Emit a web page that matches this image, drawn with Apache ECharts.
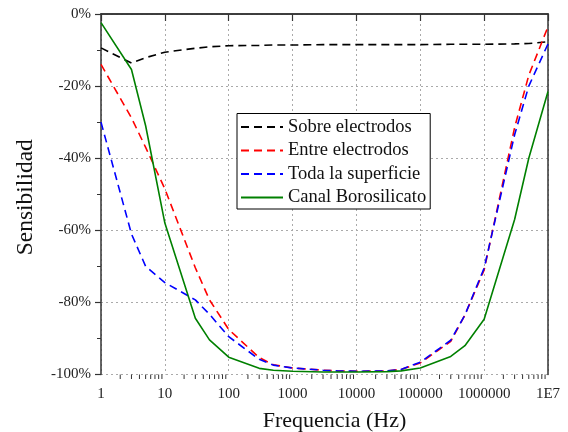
<!DOCTYPE html>
<html>
	<head>
		<meta charset="utf-8" />
		<title>Sensibilidad</title>
		<style>
			html, body { margin: 0; padding: 0; background: #fff; }
			#chart { width: 568px; height: 432px; }
		</style>
	</head>
	<body>
		<div id="chart"></div>
		<script src="https://cdn.jsdelivr.net/npm/echarts@6/dist/echarts.min.js"></script>
		<script>
			// frecuencias (Hz)
			var freqs = [1, 3, 5, 10, 30, 50, 100, 300, 500, 1000, 3000, 5000, 10000, 30000, 50000, 100000, 300000, 500000, 1000000, 3000000, 5000000, 10000000];
			var sobre = [-9.4, -13.6, -12.1, -10.6, -9.5, -9.1, -8.8, -8.7, -8.6, -8.6, -8.5, -8.5, -8.5, -8.5, -8.5, -8.5, -8.4, -8.4, -8.4, -8.3, -8.2, -7.7];
			var entre = [-14, -28.8, -37, -48.5, -70.4, -79.3, -87.5, -95.3, -97.3, -98.2, -98.8, -99, -99.1, -99, -98.6, -96.8, -90.8, -83.5, -71, -31.5, -17, -3.5];
			var toda = [-30, -61, -70, -74.5, -79.3, -83.3, -89.5, -95.8, -97.4, -98.2, -98.8, -99, -99.1, -99, -98.6, -96.6, -90.5, -83.5, -70.5, -33.5, -20, -8.3];
			var canal = [-2.4, -15.4, -31, -58, -84.4, -90.4, -95.2, -98.3, -98.8, -99.1, -99.3, -99.3, -99.3, -99.2, -99, -98.2, -95, -92, -84.7, -57, -40, -21.5];
			// marcas menores del eje log (2..9 en cada década)
			var minorFreqs = [];
			[1, 10, 100, 1000, 10000, 100000, 1000000].forEach(function (d) {
				for (var k = 2; k <= 9; k++) minorFreqs.push(d * k);
			});

			function pairs(ys) {
				return freqs.map(function (f, i) { return [f, ys[i]]; });
			}

			var font = '"Liberation Serif", "DejaVu Serif", serif';
			var axisColor = '#333';

			var chart = echarts.init(document.getElementById('chart'));
			var option = {
				animation: false,
				textStyle: { fontFamily: font },
				grid: { left: 101, right: 20, top: 14, bottom: 57.5, outerBoundsMode: 'none', containLabel: false },
				legend: {
					orient: 'vertical',
					left: 237,
					top: 113.5,
					backgroundColor: '#fff',
					borderColor: '#000',
					borderWidth: 1,
					borderRadius: 0,
					padding: [4, 4, 2, 3],
					itemWidth: 42,
					itemHeight: 19,
					itemGap: 4.5,
					itemStyle: { opacity: 0 },
					textStyle: { fontFamily: font, fontSize: 18.5, color: '#111' },
					data: ['Sobre electrodos', 'Entre electrodos', 'Toda la superficie', 'Canal Borosilicato']
				},
				xAxis: [{
					type: 'log',
					logBase: 10,
					min: 1,
					max: 10000000,
					name: 'Frequencia (Hz)',
					nameLocation: 'middle',
					nameGap: 36,
					nameTextStyle: { fontFamily: font, fontSize: 22, color: '#111', padding: [0, 0, 0, 20] },
					axisLine: { show: true, lineStyle: { color: axisColor, width: 1.5 } },
					axisTick: { show: true, inside: false, length: 7, lineStyle: { color: axisColor, width: 1.2 } },
					axisLabel: {
						fontFamily: font, fontSize: 15, color: '#222', margin: 12,
						formatter: function (v) { return v >= 10000000 ? '1E7' : String(v); }
					},
					splitLine: { show: true, lineStyle: { color: '#aaa', type: [2, 3], width: 1 } }
				}, {
					type: 'log',
					logBase: 10,
					min: 1,
					max: 10000000,
					position: 'top',
					axisLine: { show: true, lineStyle: { color: axisColor, width: 1.5 } },
					axisTick: { show: false },
					axisLabel: { show: false },
					splitLine: { show: false }
				}],
				yAxis: [{
					type: 'value',
					min: -100,
					max: 0,
					interval: 20,
					name: 'Sensibilidad',
					nameLocation: 'middle',
					nameGap: 63,
					nameRotate: 90,
					nameTextStyle: { fontFamily: font, fontSize: 23.5, color: '#111', padding: [0, 6, 0, 0] },
					axisLine: { show: true, lineStyle: { color: axisColor, width: 1.5 } },
					axisTick: { show: true, inside: false, length: 6, lineStyle: { color: axisColor, width: 1.2 } },
					minorTick: { show: true, splitNumber: 2, length: 4, lineStyle: { color: axisColor, width: 1 } },
					axisLabel: { fontFamily: font, fontSize: 15, color: '#222', margin: 10, formatter: '{value}%' },
					splitLine: { show: true, lineStyle: { color: '#aaa', type: [2, 3], width: 1 } }
				}, {
					type: 'value',
					min: -100,
					max: 0,
					position: 'right',
					axisLine: { show: true, lineStyle: { color: axisColor, width: 1.5 } },
					axisTick: { show: false },
					axisLabel: { show: false },
					splitLine: { show: false }
				}],
				series: [{
					name: 'Sobre electrodos',
					type: 'line',
					symbol: 'none',
					data: pairs(sobre),
					itemStyle: { color: '#000' },
					lineStyle: { color: '#000', width: 1.6, type: [8, 5] }
				}, {
					name: 'Entre electrodos',
					type: 'line',
					symbol: 'none',
					data: pairs(entre),
					itemStyle: { color: '#ff0000' },
					lineStyle: { color: '#ff0000', width: 1.6, type: [8, 5] }
				}, {
					name: 'Toda la superficie',
					type: 'line',
					symbol: 'none',
					data: pairs(toda),
					itemStyle: { color: '#0000ff' },
					lineStyle: { color: '#0000ff', width: 1.6, type: [8, 5] }
				}, {
					name: 'Canal Borosilicato',
					type: 'line',
					symbol: 'none',
					data: pairs(canal),
					itemStyle: { color: '#008000' },
					lineStyle: { color: '#008000', width: 1.6 }
				}, {
					// marcas menores del eje x (el eje log no las dibuja)
					type: 'custom',
					silent: true,
					clip: false,
					data: minorFreqs.map(function (f) { return [f, -100]; }),
					renderItem: function (params, api) {
						var p = api.coord([api.value(0), api.value(1)]);
						return {
							type: 'line',
							shape: { x1: p[0], y1: p[1], x2: p[0], y2: p[1] + 4.5 },
							style: { stroke: axisColor, lineWidth: 1 }
						};
					}
				}]
			};
			chart.setOption(option);
		</script>
	</body>
</html>
